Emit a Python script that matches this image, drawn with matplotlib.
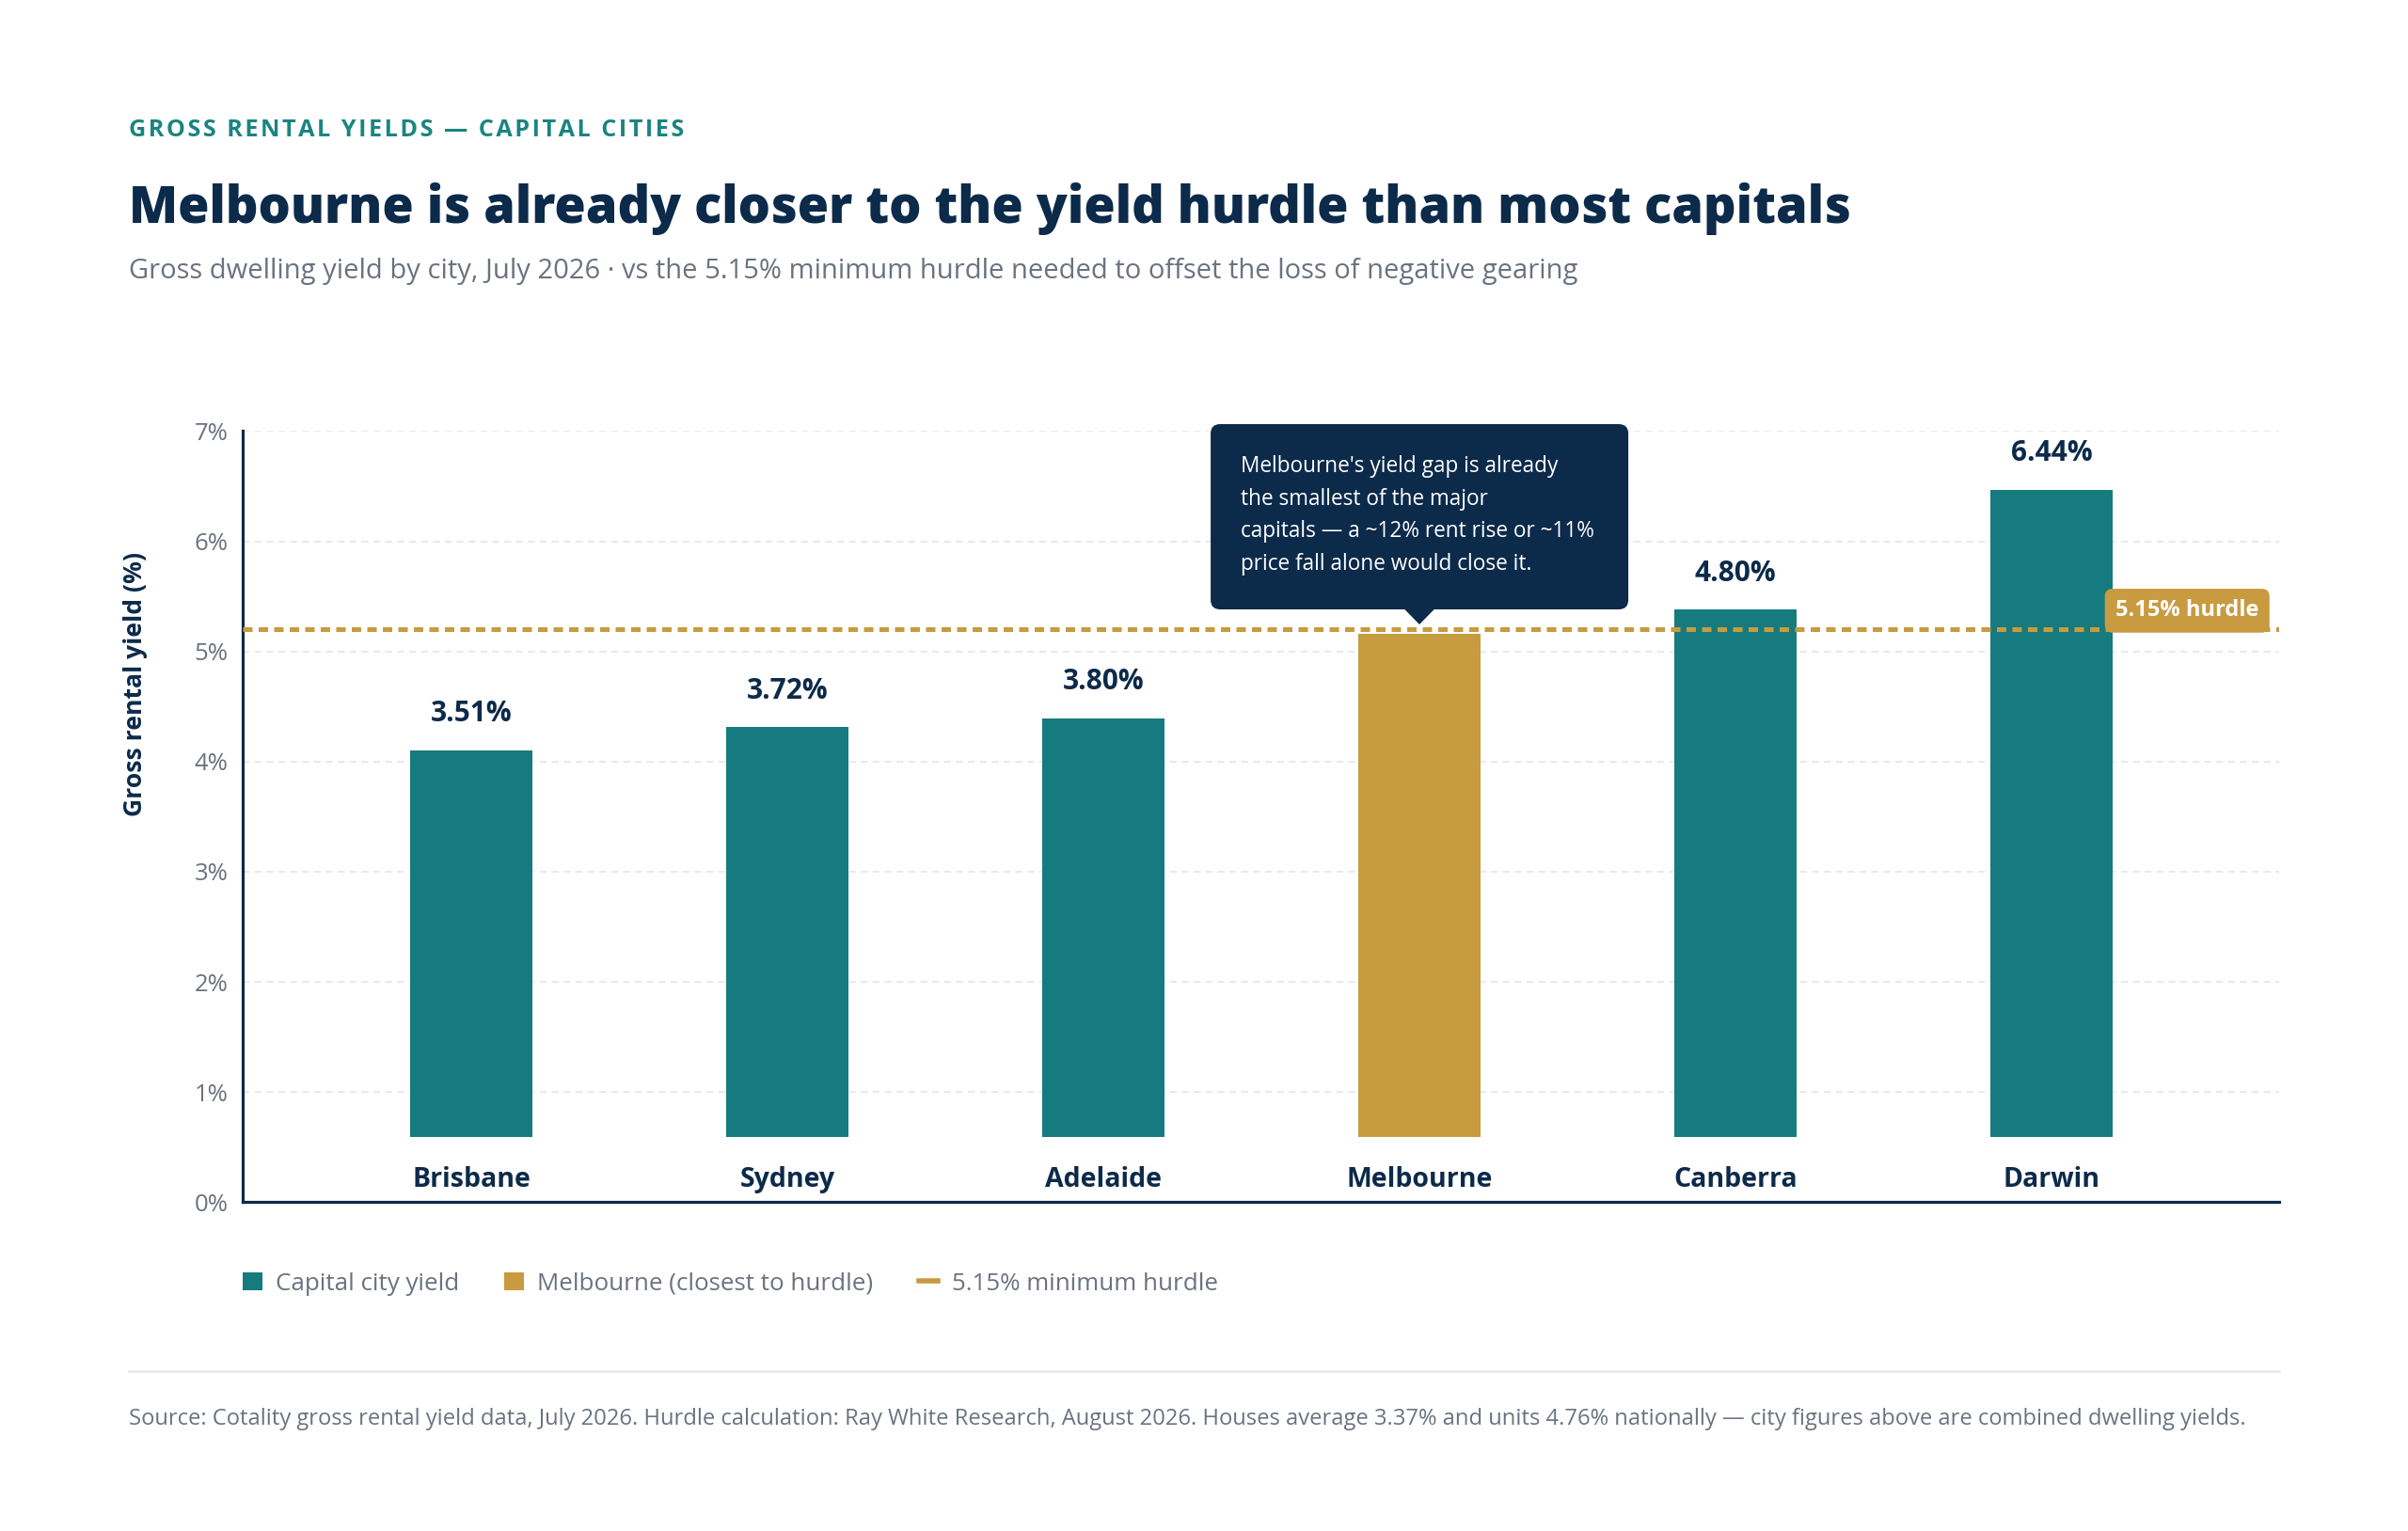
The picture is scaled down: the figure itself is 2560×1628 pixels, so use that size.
import matplotlib
matplotlib.use("Agg")
import matplotlib.pyplot as plt
from matplotlib.patches import Patch, Polygon, FancyBboxPatch
from matplotlib.lines import Line2D

# ---------------- data ----------------
cities = ["Brisbane", "Sydney", "Adelaide", "Melbourne", "Canberra", "Darwin"]
yield_labels = ["3.51%", "3.72%", "3.80%", "", "4.80%", "6.44%"]
bar_lengths = [3.51, 3.72, 3.80, 4.57, 4.79, 5.88]   # drawn bar lengths
bar_base = 0.59                                       # bars start above the x axis
hurdle_y = 5.20
hurdle_tag = "5.15% hurdle"
y_ticks = [0, 1, 2, 3, 4, 5, 6, 7]
y_tick_labels = ["0%", "1%", "2%", "3%", "4%", "5%", "6%", "7%"]
legend_labels = ["Capital city yield", "Melbourne (closest to hurdle)", "5.15% minimum hurdle"]
highlight = "Melbourne"

kicker = "GROSS RENTAL YIELDS — CAPITAL CITIES"
title = "Melbourne is already closer to the yield hurdle than most capitals"
subtitle = ("Gross dwelling yield by city, July 2026 · vs the 5.15% minimum hurdle "
            "needed to offset the loss of negative gearing")
note = ("Melbourne's yield gap is already\nthe smallest of the major\n"
        "capitals — a ~12% rent rise or ~11%\nprice fall alone would close it.")
source = ("Source: Cotality gross rental yield data, July 2026. Hurdle calculation: Ray White Research, "
          "August 2026. Houses average 3.37% and units 4.76% nationally — city figures above are "
          "combined dwelling yields.")

# ---------------- style ----------------
TEAL = "#157B7E"
GOLD = "#C89B40"
NAVY = "#0C2A4A"
GRAY = "#6B7280"
GRID = "#E5E7EB"
FAM = ["Open Sans", "DejaVu Sans"]
plt.rcParams["font.family"] = FAM

W, H = 2560, 1628
fig = plt.figure(figsize=(W / 100, H / 100), dpi=100)
fig.patch.set_facecolor("white")

def fx(px):
    return px / W

def fy(py):
    return 1 - py / H

ax_l, ax_r, ax_t, ax_b = 258, 2423, 458.5, 1278.2
ax = fig.add_axes([fx(ax_l), fy(ax_b), (ax_r - ax_l) / W, (ax_b - ax_t) / H])
ax.set_xlim(-0.723, 5.72)
ax.set_ylim(0, 7)

x = list(range(len(cities)))
colors = [GOLD if c == highlight else TEAL for c in cities]
ax.bar(x, bar_lengths, bottom=bar_base, width=0.387, color=colors, zorder=3)

# grid / spines
ax.set_yticks(y_ticks)
ax.set_yticklabels(y_tick_labels)
ax.yaxis.grid(True, color=GRID, lw=1.3, ls=(0, (4, 3)), zorder=0)
ax.set_axisbelow(True)
ax.set_xticks([])
for s in ["top", "right"]:
    ax.spines[s].set_visible(False)
for s in ["left", "bottom"]:
    ax.spines[s].set_color(NAVY)
    ax.spines[s].set_linewidth(2.3)
ax.tick_params(axis="y", length=0, pad=11, labelsize=18.5, labelcolor=GRAY)

# value + category labels
for xi, lab, h in zip(x, yield_labels, bar_lengths):
    if lab:
        ax.text(xi, bar_base + h + 0.33, lab, ha="center", va="center",
                fontsize=21.5, fontweight="bold", color=NAVY, zorder=5)
for xi, c in zip(x, cities):
    ax.text(xi, 0.20, c, ha="center", va="center", fontsize=20.5,
            fontweight="bold", color=NAVY, zorder=5)

# hurdle line + tag
ax.axhline(hurdle_y, color=GOLD, lw=3.6, ls=(0, (2.0, 1.3)), zorder=4)
ax.text(5.429, hurdle_y + 0.17, hurdle_tag, ha="center", va="center", fontsize=17,
        fontweight="bold", color="white", zorder=7,
        bbox=dict(boxstyle="round,pad=0.48,rounding_size=0.35", fc=GOLD, ec="none"))

# annotation box with pointer
asp = (1 / 117.1) / (1 / 336.0)
bx0, bx1 = (1287 - ax_l) / 336 - 0.723, (1731 - ax_l) / 336 - 0.723
by0, by1 = (ax_b - 648) / 117.1, (ax_b - 451) / 117.1
box = FancyBboxPatch((bx0, by0), bx1 - bx0, by1 - by0,
                     boxstyle="round,pad=0,rounding_size=0.03", mutation_aspect=asp,
                     fc=NAVY, ec="none", zorder=8, clip_on=False)
ax.add_patch(box)
mx = cities.index(highlight)
tri = Polygon([(mx - 0.05, by0 + 0.01), (mx + 0.05, by0 + 0.01), (mx, (ax_b - 664) / 117.1)],
              closed=True, fc=NAVY, ec="none", zorder=8, clip_on=False)
ax.add_patch(tri)
nt = ax.text((1319 - ax_l) / 336 - 0.723, (ax_b - 548) / 117.1, note, ha="left", va="center",
             fontsize=17.5, color="white", linespacing=1.6, zorder=9)

# y label
ylab = fig.text(fx(144), fy(728), "Gross rental yield (%)", rotation=90, ha="center",
                va="center", fontsize=17, fontweight="bold", color=NAVY)

# header texts
k = fig.text(fx(137), fy(145), "\u200a".join(kicker), ha="left", va="baseline",
             fontsize=18, fontweight="bold", color="#1A8480")
t = fig.text(fx(137), fy(237), title, ha="left", va="baseline", fontsize=44,
             fontweight=800, color=NAVY)
st = fig.text(fx(137), fy(296), subtitle, ha="left", va="baseline", fontsize=20, color=GRAY)
src = fig.text(fx(137), fy(1515), source, ha="left", va="baseline", fontsize=16, color=GRAY)

# separator
fig.add_artist(Line2D([fx(137), fx(2423)], [fy(1458), fy(1458)], color=GRID, lw=1.8,
                      transform=fig.transFigure))

# legend
handles = [Patch(fc=TEAL, ec="none"), Patch(fc=GOLD, ec="none"),
           Line2D([], [], color=GOLD, lw=4)]
fig.legend(handles, legend_labels, loc="center left", bbox_to_anchor=(fx(258), fy(1365)),
           ncol=3, frameon=False, fontsize=18.7, labelcolor=GRAY, handlelength=0.8,
           handleheight=0.8, handletextpad=0.55, columnspacing=1.85, borderpad=0,
           borderaxespad=0)

# fit text widths to the reference
fig.canvas.draw()
r = fig.canvas.get_renderer()
def fit(txt, target, vertical=False):
    bb = txt.get_window_extent(r)
    cur = bb.height if vertical else bb.width
    txt.set_fontsize(txt.get_fontsize() * target / cur)

fit(k, 731 - 137)
fit(t, 1970 - 137)
fit(st, 1674 - 137)
fit(src, 2383 - 137)
fit(ylab, 281, vertical=True)
fit(nt, 1695 - 1319)

fig.savefig("out.png", dpi=100, facecolor="white")
